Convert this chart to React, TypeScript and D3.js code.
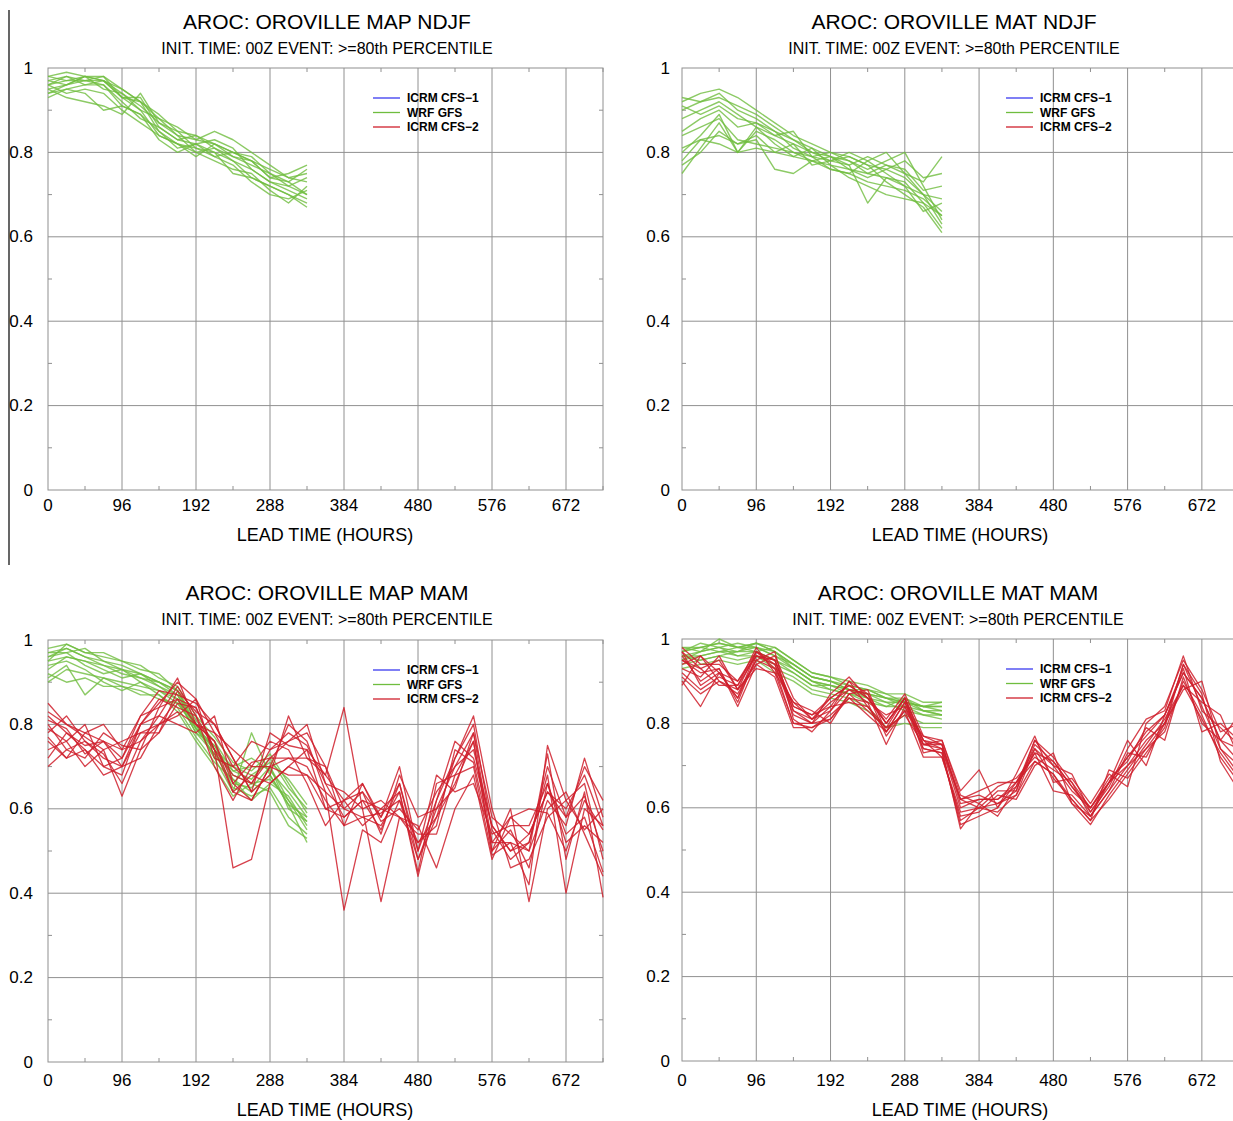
import React from "react";
import * as d3 from "d3";

// ---------------- DATA ----------------
const LEAD_SHORT = [0, 24, 48, 72, 96, 120, 144, 168, 192, 216, 240, 264, 288, 312, 336];
const LEAD_LONG = [0, 24, 48, 72, 96, 120, 144, 168, 192, 216, 240, 264, 288, 312, 336, 360, 384, 408, 432, 456, 480, 504, 528, 552, 576, 600, 624, 648, 672, 696, 720];
const X_TICKS = [0, 96, 192, 288, 384, 480, 576, 672];
const X_MINOR = [48, 144, 240, 336, 432, 528, 624, 720];
const Y_TICKS = [0, 0.2, 0.4, 0.6, 0.8, 1];
const Y_TICK_LABELS = ["0", "0.2", "0.4", "0.6", "0.8", "1"];
const Y_MINOR = [0.1, 0.3, 0.5, 0.7, 0.9];
const LEGEND_NAMES = ["ICRM CFS\u22121", "WRF GFS", "ICRM CFS\u22122"];
const SUBTITLE = "INIT. TIME: 00Z EVENT: >=80th PERCENTILE";
const X_LABEL = "LEAD TIME (HOURS)";

// Top-left: MAP NDJF, WRF GFS members
const MAP_NDJF_GFS = [
  [0.96, 0.97, 0.98, 0.98, 0.95, 0.92, 0.88, 0.84, 0.83, 0.82, 0.80, 0.78, 0.76, 0.74, 0.73],
  [0.97, 0.98, 0.97, 0.97, 0.94, 0.91, 0.87, 0.85, 0.84, 0.81, 0.79, 0.77, 0.75, 0.73, 0.70],
  [0.95, 0.96, 0.98, 0.97, 0.93, 0.93, 0.86, 0.83, 0.82, 0.83, 0.81, 0.76, 0.73, 0.72, 0.74],
  [0.94, 0.95, 0.94, 0.90, 0.91, 0.89, 0.85, 0.82, 0.81, 0.80, 0.78, 0.74, 0.72, 0.70, 0.68],
  [0.98, 0.97, 0.97, 0.98, 0.93, 0.90, 0.84, 0.82, 0.79, 0.82, 0.80, 0.79, 0.75, 0.72, 0.70],
  [0.96, 0.98, 0.96, 0.96, 0.92, 0.88, 0.86, 0.83, 0.84, 0.82, 0.79, 0.78, 0.74, 0.75, 0.77],
  [0.95, 0.93, 0.92, 0.91, 0.89, 0.94, 0.87, 0.84, 0.80, 0.78, 0.76, 0.75, 0.71, 0.68, 0.72],
  [0.97, 0.96, 0.98, 0.95, 0.94, 0.90, 0.88, 0.86, 0.83, 0.85, 0.83, 0.80, 0.77, 0.74, 0.75],
  [0.93, 0.95, 0.96, 0.97, 0.95, 0.92, 0.85, 0.81, 0.82, 0.79, 0.77, 0.73, 0.70, 0.69, 0.71],
  [0.96, 0.94, 0.95, 0.94, 0.90, 0.87, 0.84, 0.82, 0.80, 0.81, 0.78, 0.76, 0.73, 0.71, 0.69],
  [0.98, 0.99, 0.98, 0.97, 0.93, 0.92, 0.89, 0.85, 0.81, 0.79, 0.80, 0.78, 0.74, 0.73, 0.76],
  [0.94, 0.96, 0.97, 0.96, 0.91, 0.89, 0.83, 0.80, 0.82, 0.80, 0.75, 0.74, 0.72, 0.70, 0.67],
];

// Top-right: MAT NDJF, WRF GFS members
const MAT_NDJF_GFS = [
  [0.92, 0.94, 0.95, 0.93, 0.90, 0.87, 0.84, 0.82, 0.80, 0.79, 0.77, 0.76, 0.74, 0.70, 0.66],
  [0.90, 0.92, 0.93, 0.91, 0.89, 0.86, 0.83, 0.80, 0.79, 0.78, 0.76, 0.78, 0.80, 0.72, 0.64],
  [0.88, 0.90, 0.92, 0.89, 0.86, 0.84, 0.82, 0.80, 0.78, 0.77, 0.79, 0.77, 0.75, 0.73, 0.79],
  [0.85, 0.88, 0.90, 0.86, 0.87, 0.85, 0.81, 0.79, 0.80, 0.78, 0.75, 0.74, 0.73, 0.68, 0.62],
  [0.80, 0.84, 0.89, 0.80, 0.85, 0.83, 0.80, 0.78, 0.77, 0.76, 0.74, 0.76, 0.78, 0.74, 0.75],
  [0.78, 0.83, 0.84, 0.82, 0.84, 0.80, 0.82, 0.77, 0.78, 0.79, 0.77, 0.73, 0.70, 0.67, 0.61],
  [0.75, 0.81, 0.87, 0.80, 0.86, 0.82, 0.79, 0.81, 0.79, 0.77, 0.68, 0.74, 0.72, 0.70, 0.63],
  [0.81, 0.83, 0.82, 0.80, 0.81, 0.80, 0.79, 0.78, 0.76, 0.75, 0.73, 0.72, 0.71, 0.69, 0.65],
  [0.91, 0.89, 0.91, 0.88, 0.87, 0.84, 0.85, 0.79, 0.78, 0.80, 0.78, 0.80, 0.75, 0.70, 0.69],
  [0.77, 0.80, 0.85, 0.82, 0.83, 0.76, 0.75, 0.78, 0.79, 0.76, 0.75, 0.77, 0.76, 0.71, 0.72],
  [0.93, 0.92, 0.94, 0.90, 0.88, 0.85, 0.83, 0.81, 0.77, 0.74, 0.72, 0.70, 0.69, 0.68, 0.65],
  [0.84, 0.86, 0.88, 0.83, 0.82, 0.81, 0.80, 0.79, 0.76, 0.75, 0.78, 0.75, 0.72, 0.66, 0.68],
];

// Bottom-left: MAP MAM
const MAP_MAM_GFS = [
  [0.95, 0.99, 0.97, 0.96, 0.95, 0.93, 0.92, 0.88, 0.80, 0.74, 0.70, 0.72, 0.69, 0.64, 0.58],
  [0.93, 0.96, 0.95, 0.94, 0.93, 0.92, 0.90, 0.87, 0.79, 0.75, 0.68, 0.66, 0.67, 0.62, 0.55],
  [0.97, 0.98, 0.96, 0.94, 0.92, 0.91, 0.89, 0.86, 0.78, 0.73, 0.66, 0.65, 0.70, 0.60, 0.57],
  [0.91, 0.94, 0.87, 0.91, 0.90, 0.89, 0.88, 0.85, 0.80, 0.72, 0.64, 0.78, 0.68, 0.61, 0.52],
  [0.96, 0.97, 0.98, 0.95, 0.94, 0.92, 0.90, 0.88, 0.81, 0.76, 0.69, 0.67, 0.72, 0.65, 0.60],
  [0.94, 0.95, 0.93, 0.90, 0.88, 0.90, 0.87, 0.84, 0.77, 0.71, 0.67, 0.62, 0.66, 0.63, 0.56],
  [0.98, 0.99, 0.97, 0.97, 0.95, 0.94, 0.91, 0.89, 0.82, 0.77, 0.71, 0.69, 0.73, 0.66, 0.59],
  [0.92, 0.90, 0.91, 0.89, 0.89, 0.88, 0.86, 0.85, 0.79, 0.74, 0.65, 0.63, 0.65, 0.58, 0.54],
  [0.95, 0.96, 0.95, 0.93, 0.91, 0.92, 0.89, 0.87, 0.80, 0.72, 0.70, 0.68, 0.71, 0.67, 0.61],
  [0.97, 0.97, 0.94, 0.92, 0.93, 0.90, 0.88, 0.86, 0.78, 0.75, 0.67, 0.64, 0.68, 0.61, 0.58],
  [0.90, 0.93, 0.92, 0.91, 0.89, 0.87, 0.87, 0.83, 0.76, 0.70, 0.63, 0.66, 0.64, 0.56, 0.53],
  [0.96, 0.98, 0.96, 0.95, 0.93, 0.91, 0.90, 0.88, 0.79, 0.73, 0.69, 0.70, 0.70, 0.62, 0.57],
];
const MAP_MAM_CFS2 = [
  [0.83, 0.80, 0.78, 0.76, 0.70, 0.80, 0.85, 0.90, 0.86, 0.78, 0.70, 0.66, 0.74, 0.78, 0.75, 0.66, 0.58, 0.62, 0.55, 0.66, 0.50, 0.62, 0.72, 0.80, 0.55, 0.48, 0.52, 0.70, 0.58, 0.63, 0.50],
  [0.78, 0.82, 0.76, 0.73, 0.66, 0.76, 0.80, 0.86, 0.84, 0.74, 0.64, 0.62, 0.70, 0.80, 0.76, 0.64, 0.60, 0.58, 0.59, 0.62, 0.48, 0.58, 0.66, 0.76, 0.50, 0.55, 0.46, 0.66, 0.54, 0.58, 0.45],
  [0.74, 0.76, 0.80, 0.70, 0.72, 0.82, 0.84, 0.91, 0.80, 0.76, 0.66, 0.71, 0.72, 0.72, 0.70, 0.62, 0.56, 0.66, 0.57, 0.60, 0.55, 0.64, 0.70, 0.74, 0.56, 0.50, 0.54, 0.64, 0.60, 0.68, 0.56],
  [0.80, 0.74, 0.72, 0.78, 0.75, 0.74, 0.78, 0.88, 0.83, 0.80, 0.72, 0.64, 0.68, 0.82, 0.72, 0.68, 0.84, 0.60, 0.62, 0.58, 0.52, 0.56, 0.74, 0.71, 0.52, 0.58, 0.60, 0.59, 0.50, 0.62, 0.55],
  [0.72, 0.78, 0.74, 0.70, 0.68, 0.80, 0.86, 0.84, 0.82, 0.74, 0.46, 0.48, 0.66, 0.70, 0.74, 0.60, 0.62, 0.56, 0.60, 0.64, 0.45, 0.66, 0.68, 0.70, 0.49, 0.52, 0.42, 0.75, 0.62, 0.55, 0.60],
  [0.85, 0.80, 0.77, 0.74, 0.76, 0.78, 0.80, 0.82, 0.86, 0.72, 0.70, 0.76, 0.74, 0.76, 0.78, 0.70, 0.60, 0.64, 0.54, 0.68, 0.58, 0.60, 0.65, 0.78, 0.58, 0.54, 0.50, 0.62, 0.56, 0.72, 0.58],
  [0.76, 0.72, 0.78, 0.80, 0.74, 0.76, 0.82, 0.80, 0.78, 0.82, 0.66, 0.62, 0.70, 0.68, 0.68, 0.64, 0.36, 0.55, 0.52, 0.62, 0.52, 0.58, 0.72, 0.82, 0.60, 0.46, 0.48, 0.58, 0.62, 0.66, 0.48],
  [0.79, 0.76, 0.70, 0.74, 0.63, 0.74, 0.84, 0.86, 0.80, 0.78, 0.74, 0.70, 0.76, 0.74, 0.66, 0.56, 0.62, 0.64, 0.58, 0.70, 0.50, 0.68, 0.64, 0.66, 0.54, 0.56, 0.56, 0.66, 0.52, 0.56, 0.52],
  [0.70, 0.74, 0.76, 0.72, 0.70, 0.78, 0.78, 0.85, 0.84, 0.74, 0.68, 0.66, 0.72, 0.76, 0.80, 0.66, 0.64, 0.60, 0.38, 0.58, 0.54, 0.54, 0.68, 0.76, 0.50, 0.60, 0.38, 0.60, 0.64, 0.54, 0.44],
  [0.82, 0.78, 0.75, 0.76, 0.72, 0.80, 0.82, 0.89, 0.82, 0.70, 0.62, 0.70, 0.70, 0.72, 0.72, 0.70, 0.56, 0.58, 0.56, 0.64, 0.44, 0.62, 0.76, 0.72, 0.56, 0.50, 0.52, 0.68, 0.40, 0.60, 0.56],
  [0.77, 0.72, 0.74, 0.68, 0.70, 0.72, 0.80, 0.83, 0.80, 0.76, 0.64, 0.68, 0.66, 0.70, 0.68, 0.60, 0.58, 0.62, 0.60, 0.58, 0.56, 0.46, 0.60, 0.68, 0.48, 0.58, 0.54, 0.64, 0.58, 0.70, 0.62],
  [0.81, 0.79, 0.73, 0.76, 0.74, 0.82, 0.88, 0.87, 0.85, 0.80, 0.72, 0.64, 0.78, 0.75, 0.74, 0.68, 0.62, 0.66, 0.58, 0.66, 0.48, 0.60, 0.70, 0.78, 0.52, 0.52, 0.50, 0.73, 0.48, 0.64, 0.39],
];

// Bottom-right: MAT MAM
const MAT_MAM_GFS = [
  [0.97, 0.98, 0.99, 0.98, 0.99, 0.97, 0.94, 0.91, 0.90, 0.89, 0.88, 0.86, 0.86, 0.84, 0.84],
  [0.96, 0.97, 0.98, 0.97, 0.98, 0.96, 0.93, 0.90, 0.89, 0.88, 0.86, 0.85, 0.85, 0.83, 0.83],
  [0.98, 0.97, 1.00, 0.98, 0.97, 0.98, 0.95, 0.92, 0.91, 0.90, 0.89, 0.87, 0.87, 0.85, 0.85],
  [0.95, 0.96, 0.97, 0.96, 0.97, 0.95, 0.92, 0.89, 0.88, 0.87, 0.85, 0.84, 0.84, 0.82, 0.82],
  [0.94, 0.95, 0.96, 0.95, 0.96, 0.93, 0.91, 0.88, 0.87, 0.86, 0.84, 0.79, 0.82, 0.80, 0.80],
  [0.97, 0.99, 0.98, 0.99, 0.98, 0.96, 0.94, 0.91, 0.90, 0.88, 0.87, 0.86, 0.85, 0.84, 0.83],
  [0.96, 0.96, 0.97, 0.97, 0.99, 0.97, 0.93, 0.90, 0.88, 0.87, 0.87, 0.85, 0.83, 0.82, 0.81],
  [0.95, 0.97, 0.98, 0.96, 0.96, 0.94, 0.92, 0.89, 0.89, 0.87, 0.86, 0.84, 0.86, 0.83, 0.82],
  [0.93, 0.94, 0.95, 0.94, 0.95, 0.92, 0.90, 0.87, 0.86, 0.85, 0.83, 0.79, 0.80, 0.79, 0.79],
  [0.97, 0.98, 0.99, 0.98, 0.99, 0.98, 0.95, 0.92, 0.91, 0.89, 0.88, 0.87, 0.85, 0.84, 0.84],
  [0.96, 0.95, 0.96, 0.97, 0.97, 0.95, 0.93, 0.90, 0.89, 0.88, 0.87, 0.86, 0.84, 0.83, 0.82],
  [0.98, 0.98, 0.97, 0.98, 0.98, 0.97, 0.94, 0.91, 0.90, 0.88, 0.88, 0.86, 0.85, 0.84, 0.85],
];
const MAT_MAM_CFS2 = [
  [0.97, 0.93, 0.95, 0.88, 0.97, 0.95, 0.84, 0.82, 0.86, 0.89, 0.86, 0.80, 0.86, 0.76, 0.74, 0.60, 0.62, 0.62, 0.66, 0.74, 0.70, 0.64, 0.60, 0.66, 0.72, 0.78, 0.82, 0.92, 0.86, 0.76, 0.74],
  [0.94, 0.96, 0.92, 0.90, 0.96, 0.94, 0.82, 0.80, 0.84, 0.90, 0.84, 0.78, 0.85, 0.75, 0.75, 0.62, 0.60, 0.64, 0.64, 0.76, 0.72, 0.66, 0.58, 0.64, 0.70, 0.76, 0.80, 0.94, 0.84, 0.74, 0.70],
  [0.90, 0.84, 0.92, 0.86, 0.95, 0.93, 0.80, 0.79, 0.82, 0.86, 0.85, 0.82, 0.84, 0.74, 0.73, 0.56, 0.58, 0.60, 0.66, 0.71, 0.68, 0.62, 0.57, 0.62, 0.68, 0.74, 0.78, 0.90, 0.82, 0.72, 0.66],
  [0.96, 0.90, 0.93, 0.84, 0.94, 0.96, 0.86, 0.81, 0.85, 0.88, 0.87, 0.77, 0.83, 0.77, 0.76, 0.64, 0.69, 0.60, 0.68, 0.77, 0.66, 0.67, 0.61, 0.68, 0.65, 0.80, 0.84, 0.95, 0.88, 0.78, 0.80],
  [0.92, 0.88, 0.91, 0.89, 0.98, 0.92, 0.85, 0.83, 0.80, 0.87, 0.83, 0.79, 0.86, 0.73, 0.74, 0.55, 0.61, 0.58, 0.65, 0.73, 0.64, 0.63, 0.58, 0.64, 0.73, 0.72, 0.80, 0.88, 0.90, 0.74, 0.68],
  [0.98, 0.94, 0.94, 0.90, 0.97, 0.94, 0.83, 0.80, 0.87, 0.91, 0.86, 0.81, 0.87, 0.77, 0.75, 0.62, 0.63, 0.61, 0.64, 0.75, 0.71, 0.65, 0.59, 0.66, 0.76, 0.70, 0.82, 0.93, 0.78, 0.80, 0.76],
  [0.89, 0.96, 0.90, 0.87, 0.95, 0.97, 0.81, 0.78, 0.83, 0.88, 0.85, 0.75, 0.84, 0.76, 0.72, 0.58, 0.59, 0.63, 0.62, 0.70, 0.73, 0.61, 0.56, 0.63, 0.69, 0.75, 0.81, 0.89, 0.85, 0.82, 0.72],
  [0.95, 0.92, 0.93, 0.85, 0.96, 0.95, 0.84, 0.82, 0.84, 0.85, 0.84, 0.79, 0.82, 0.75, 0.76, 0.63, 0.61, 0.65, 0.67, 0.72, 0.69, 0.66, 0.60, 0.67, 0.71, 0.79, 0.76, 0.91, 0.80, 0.76, 0.82],
  [0.93, 0.91, 0.96, 0.88, 0.93, 0.92, 0.80, 0.80, 0.81, 0.87, 0.88, 0.78, 0.85, 0.74, 0.73, 0.57, 0.60, 0.59, 0.63, 0.74, 0.67, 0.62, 0.57, 0.69, 0.67, 0.73, 0.79, 0.94, 0.87, 0.71, 0.64],
  [0.97, 0.89, 0.92, 0.86, 0.97, 0.93, 0.85, 0.81, 0.86, 0.89, 0.86, 0.80, 0.86, 0.76, 0.75, 0.61, 0.62, 0.62, 0.65, 0.76, 0.70, 0.68, 0.59, 0.65, 0.74, 0.81, 0.83, 0.96, 0.83, 0.79, 0.75],
  [0.91, 0.87, 0.90, 0.88, 0.94, 0.91, 0.79, 0.79, 0.81, 0.86, 0.82, 0.78, 0.83, 0.72, 0.72, 0.59, 0.60, 0.61, 0.63, 0.71, 0.68, 0.61, 0.58, 0.66, 0.70, 0.74, 0.80, 0.89, 0.81, 0.73, 0.67],
  [0.95, 0.93, 0.89, 0.89, 0.96, 0.95, 0.83, 0.81, 0.83, 0.90, 0.87, 0.80, 0.86, 0.75, 0.74, 0.62, 0.64, 0.66, 0.66, 0.73, 0.71, 0.65, 0.60, 0.66, 0.72, 0.77, 0.82, 0.92, 0.86, 0.76, 0.71],
];

// ---------------- STYLE / LAYOUT ----------------
const GREEN = "#6fbd3e";
const RED = "#cf1f2c";
const BLUE = "#3a3af0";
const GRID = "#909090";
const FONT = "'Liberation Sans', Arial, Helvetica, sans-serif";

type Panel = {
  title: string;
  x0: number; x1: number; yTop: number; yBot: number;
  titleX: number; titleY: number; subY: number; xLabelX: number;
  tickDy: number; labelDy: number;
  gfs: number[][]; cfs2: number[][] | null;
  legX: number; yLabX: number;
};

const PANELS: Panel[] = [
  { title: "AROC: OROVILLE MAP NDJF", x0: 48, x1: 603, yTop: 68, yBot: 490, titleX: 327, titleY: 21, subY: 48, xLabelX: 325, tickDy: 15, labelDy: 45, gfs: MAP_NDJF_GFS, cfs2: null, legX: 373, yLabX: 33 },
  { title: "AROC: OROVILLE MAT NDJF", x0: 682, x1: 1239, yTop: 68, yBot: 490, titleX: 954, titleY: 21, subY: 48, xLabelX: 960, tickDy: 15, labelDy: 45, gfs: MAT_NDJF_GFS, cfs2: null, legX: 1006, yLabX: 670 },
  { title: "AROC: OROVILLE MAP MAM", x0: 48, x1: 603, yTop: 640, yBot: 1062, titleX: 327, titleY: 592, subY: 619, xLabelX: 325, tickDy: 18, labelDy: 48, gfs: MAP_MAM_GFS, cfs2: MAP_MAM_CFS2, legX: 373, yLabX: 33 },
  { title: "AROC: OROVILLE MAT MAM", x0: 682, x1: 1239, yTop: 639, yBot: 1061, titleX: 958, titleY: 592, subY: 619, xLabelX: 960, tickDy: 19, labelDy: 49, gfs: MAT_MAM_GFS, cfs2: MAT_MAM_CFS2, legX: 1006, yLabX: 670 },
];

function PanelView({ p }: { p: Panel }) {
  const x = d3.scaleLinear().domain([0, 720]).range([p.x0, p.x1]);
  const y = d3.scaleLinear().domain([0, 1]).range([p.yBot, p.yTop]);
  const lineS = d3.line<number>().x((_, i) => x(LEAD_SHORT[i])).y((v) => y(v));
  const lineL = d3.line<number>().x((_, i) => x(LEAD_LONG[i])).y((v) => y(v));
  const legColors = [BLUE, GREEN, RED];
  return (
    <g>
      <text x={p.titleX} y={p.titleY} textAnchor="middle" dominantBaseline="central" fontSize={21} fontFamily={FONT} fill="#000">{p.title}</text>
      <text x={p.titleX} y={p.subY} textAnchor="middle" dominantBaseline="central" fontSize={16} fontFamily={FONT} fill="#000">{SUBTITLE}</text>
      {/* grid */}
      {X_TICKS.filter((t) => t > 0).map((t) => (
        <line key={"gx" + t} x1={x(t)} x2={x(t)} y1={p.yTop} y2={p.yBot} stroke={GRID} strokeWidth={1} />
      ))}
      {Y_TICKS.filter((t) => t > 0 && t < 1).map((t) => (
        <line key={"gy" + t} x1={p.x0} x2={p.x1} y1={y(t)} y2={y(t)} stroke={GRID} strokeWidth={1} />
      ))}
      {X_MINOR.map((t) => (
        <g key={"mx" + t}>
          <line x1={x(t)} x2={x(t)} y1={p.yTop} y2={p.yTop + 4} stroke={GRID} />
          <line x1={x(t)} x2={x(t)} y1={p.yBot} y2={p.yBot - 4} stroke={GRID} />
        </g>
      ))}
      {Y_MINOR.map((t) => (
        <g key={"my" + t}>
          <line x1={p.x0} x2={p.x0 + 4} y1={y(t)} y2={y(t)} stroke={GRID} />
          <line x1={p.x1} x2={p.x1 - 4} y1={y(t)} y2={y(t)} stroke={GRID} />
        </g>
      ))}
      <rect x={p.x0} y={p.yTop} width={p.x1 - p.x0} height={p.yBot - p.yTop} fill="none" stroke={GRID} strokeWidth={1} />
      {/* data */}
      {p.gfs.map((s, i) => (
        <path key={"g" + i} d={lineS(s) || ""} fill="none" stroke={GREEN} strokeWidth={1.4} strokeOpacity={0.8} strokeLinejoin="round" />
      ))}
      {p.cfs2 && p.cfs2.map((s, i) => (
        <path key={"r" + i} d={lineL(s) || ""} fill="none" stroke={RED} strokeWidth={1.3} strokeOpacity={0.85} strokeLinejoin="round" />
      ))}
      {/* ticks labels */}
      {Y_TICKS.map((t, i) => (
        <text key={"yl" + t} x={p.yLabX} y={y(t)} textAnchor="end" dominantBaseline="central" fontSize={17} fontFamily={FONT}>{Y_TICK_LABELS[i]}</text>
      ))}
      {X_TICKS.map((t) => (
        <text key={"xl" + t} x={x(t)} y={p.yBot + p.tickDy} textAnchor="middle" dominantBaseline="central" fontSize={17} fontFamily={FONT}>{t}</text>
      ))}
      <text x={p.xLabelX} y={p.yBot + p.labelDy} textAnchor="middle" dominantBaseline="central" fontSize={18} fontFamily={FONT}>{X_LABEL}</text>
      {/* legend */}
      {LEGEND_NAMES.map((n, i) => (
        <g key={"lg" + i}>
          <line x1={p.legX} x2={p.legX + 27} y1={p.yTop + 30 + i * 14.5} y2={p.yTop + 30 + i * 14.5} stroke={legColors[i]} strokeWidth={1.3} />
          <text x={p.legX + 34} y={p.yTop + 30 + i * 14.5} dominantBaseline="central" fontSize={12} fontWeight="bold" fontFamily={FONT}>{n}</text>
        </g>
      ))}
    </g>
  );
}

export default function App() {
  return (
    <svg width={1233} height={1121} style={{ position: "absolute", left: 0, top: 0, background: "#fff", display: "block" }}>
      <rect x={0} y={0} width={1233} height={1121} fill="#fff" />
      <line x1={9} x2={9} y1={10} y2={565} stroke="#000" strokeWidth={1.2} />
      {PANELS.map((p, i) => (
        <PanelView key={i} p={p} />
      ))}
    </svg>
  );
}
